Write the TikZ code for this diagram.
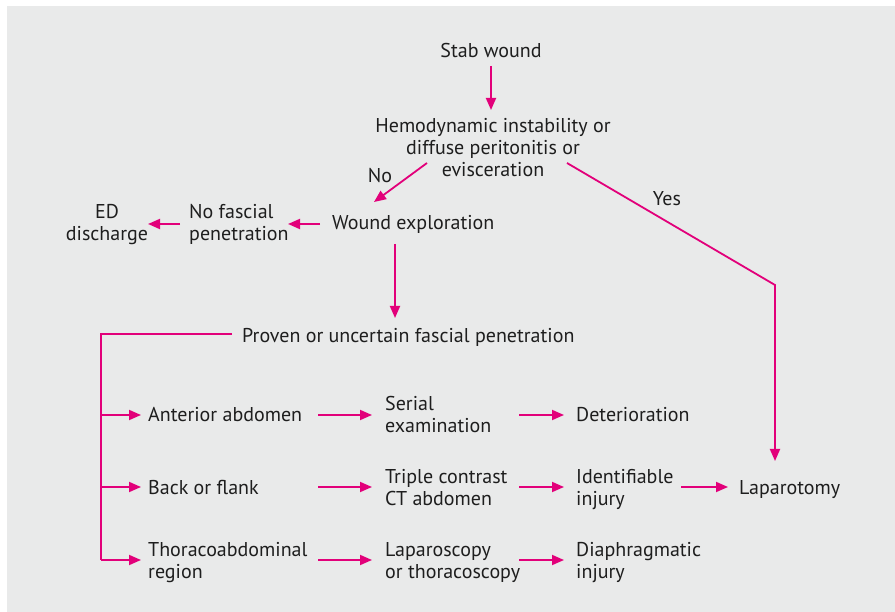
\documentclass[tikz,border=0pt]{standalone}
\usepackage{fontspec}
\setmainfont{PT Sans}
\usetikzlibrary{arrows.meta,calc}
\definecolor{mag}{HTML}{E2007A}
\definecolor{bgc}{HTML}{E9EAEA}
\definecolor{ink}{HTML}{1E1E1E}
\begin{document}
\begin{tikzpicture}[x=1pt,y=-1pt,
  txt/.style={inner sep=0pt, text=ink, font=\fontsize{20}{22}\selectfont},
  lt/.style={txt, anchor=base west, align=left},
  ct/.style={txt, anchor=base, align=center},
  conn/.style={draw=mag, line width=1.8pt},
  arr/.style={conn, -{Triangle[length=12pt,width=10pt]}}]
\useasboundingbox (0,0) rectangle (895,612);
\fill[white] (0,0) rectangle (895,612);
\fill[bgc] (7,6) rectangle (895,612);

% base of a multi-line node = baseline of its last line
\node[ct] (stab) at (491,58) {Stab wound};
\node[ct] (hemo) at (493,177) {Hemodynamic instability or\\diffuse peritonitis or\\evisceration};
\node[lt] (wound) at (332,230) {Wound exploration};
\node[lt] (nofasc) at (189,241) {No fascial\\penetration};
\node[ct] (ed) at (107,241) {ED\\discharge};
\node[lt] (proven) at (242,343) {Proven or uncertain fascial penetration};
\node[lt] (ant) at (148,421) {Anterior abdomen};
\node[lt] (back) at (148,494) {Back or flank};
\node[lt] (thor) at (148,578) {Thoracoabdominal\\region};
\node[lt] (serial) at (385,433) {Serial\\examination};
\node[lt] (triple) at (385,505) {Triple contrast\\CT abdomen};
\node[lt] (lapsc) at (385,578) {Laparoscopy\\or thoracoscopy};
\node[lt] (deter) at (576,421) {Deterioration};
\node[lt] (ident) at (576,505) {Identifiable\\injury};
\node[lt] (diaph) at (576,578) {Diaphragmatic\\injury};
\node[lt] (lapar) at (739,494) {Laparotomy};
\node[ct] (no) at (380,183) {No};
\node[ct] (yes) at (667,206) {Yes};

% top
\draw[arr] ($(stab.base)+(0,8)$) -- ($(hemo.base)+(-2,-67)$);
\draw[arr] ($(hemo.base)+(-66,-14)$) -- ($(wound.base west)+(42,-28)$);
\draw[arr] ($(hemo.base)+(74,-14)$) -- ($(lapar.base west)+(36,-209)$) -- ($(lapar.base west)+(36,-33)$);
\draw[arr] ($(wound.base west)+(-12,-6)$) -- ($(nofasc.base west)+(99,-17)$);
\draw[arr] ($(nofasc.base west)+(-9,-17)$) -- ($(ed.base)+(41,-17)$);
\draw[arr] ($(wound.base west)+(63,14)$) -- ($(proven.base west)+(153,-25)$);

% bracket
\draw[conn] ($(proven.base west)+(-10,-9)$) -- ($(ant.base west)+(-47,-87)$) -- ($(thor.base west)+(-47,-18)$);
\draw[arr] ($(ant.base west)+(-47,-6)$) -- ($(ant.base west)+(-7,-6)$);
\draw[arr] ($(back.base west)+(-47,-7)$) -- ($(back.base west)+(-7,-7)$);
\draw[arr] ($(thor.base west)+(-47,-18)$) -- ($(thor.base west)+(-7,-18)$);

% column 1
\draw[arr] ($(serial.base west)+(-67,-18)$) -- ($(serial.base west)+(-13,-18)$);
\draw[arr] ($(triple.base west)+(-67,-18)$) -- ($(triple.base west)+(-13,-18)$);
\draw[arr] ($(lapsc.base west)+(-67,-18)$) -- ($(lapsc.base west)+(-13,-18)$);
% column 2
\draw[arr] ($(deter.base west)+(-57,-6)$) -- ($(deter.base west)+(-12,-6)$);
\draw[arr] ($(ident.base west)+(-57,-18)$) -- ($(ident.base west)+(-12,-18)$);
\draw[arr] ($(diaph.base west)+(-57,-18)$) -- ($(diaph.base west)+(-12,-18)$);
% to laparotomy
\draw[arr] ($(lapar.base west)+(-58,-7)$) -- ($(lapar.base west)+(-11,-7)$);
\end{tikzpicture}
\end{document}
